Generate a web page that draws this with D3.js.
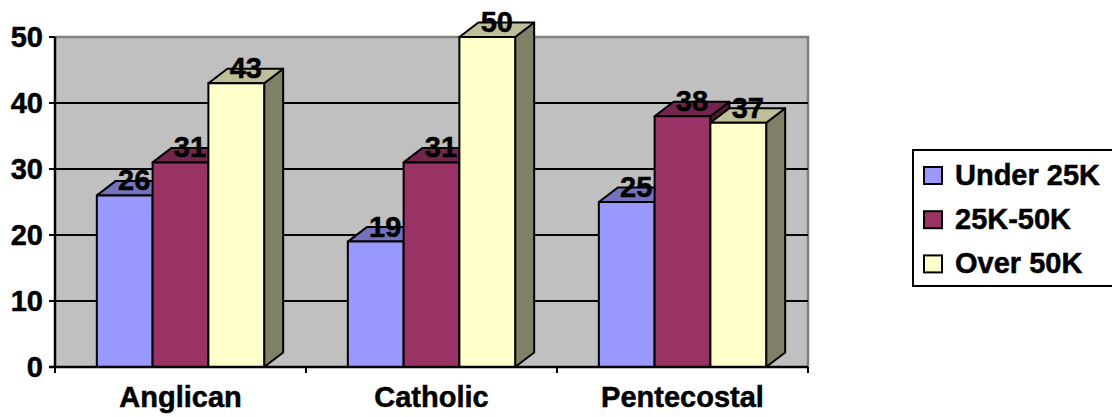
<!DOCTYPE html>
<html>
<head>
<meta charset="utf-8">
<script src="https://cdn.jsdelivr.net/npm/d3@7"></script>
<style>
  html, body { margin: 0; padding: 0; background: #fff; }
  svg text { font-family: "Liberation Sans", Arial, sans-serif; font-weight: bold; fill: #000; stroke: #000; stroke-width: 0.5px; }
</style>
</head>
<body>
<svg id="chart" width="1112" height="417"></svg>
<script>
// Income bands by denomination
const categories = ["Anglican", "Catholic", "Pentecostal"];
const seriesNames = ["Under 25K", "25K-50K", "Over 50K"];
const under25K = [26, 19, 25];
const from25to50K = [31, 31, 38];
const over50K = [43, 50, 37];
const yTicks = [0, 10, 20, 30, 40, 50];

const seriesValues = [under25K, from25to50K, over50K];
// front, top, side shades per series
const frontColors = ["#9999FF", "#993366", "#FFFFCC"];
const topColors   = ["#7373BF", "#73264D", "#BFBF99"];
const sideColors  = ["#4D4D80", "#4D1A33", "#808066"];

const svg = d3.select("#chart");
const plot = { left: 55, right: 808, top: 37, bottom: 367 };
const depthX = 19, depthY = 14.5;
const fontSize = 29;

const x = d3.scaleBand().domain(categories).range([plot.left, plot.right]).padding(0);
const xs = d3.scaleBand().domain(seriesNames).range([0, x.bandwidth()])
  .paddingInner(0).paddingOuter(0.75);
const y = d3.scaleLinear().domain([0, 50]).range([plot.bottom, plot.top]);

// plot wall
svg.append("rect")
  .attr("x", plot.left).attr("y", plot.top)
  .attr("width", plot.right - plot.left).attr("height", plot.bottom - plot.top)
  .attr("fill", "#C0C0C0");
svg.append("path")
  .attr("d", `M${plot.left},${plot.top}H${plot.right}V${plot.bottom}`)
  .attr("fill", "none").attr("stroke", "#808080").attr("stroke-width", 2.5);

// gridlines
svg.append("g").selectAll("line").data(yTicks.filter(t => t > 0 && t < 50)).join("line")
  .attr("x1", plot.left).attr("x2", plot.right)
  .attr("y1", d => y(d)).attr("y2", d => y(d))
  .attr("stroke", "#000").attr("stroke-width", 2);

// bars
const bars = [];
categories.forEach((c, ci) => {
  seriesNames.forEach((s, si) => {
    bars.push({ cat: c, series: s, si, value: seriesValues[si][ci] });
  });
});

const gBars = svg.append("g");
bars.forEach(b => {
  const x0 = x(b.cat) + xs(b.series);
  const w = xs.bandwidth();
  const yt = y(b.value), yb = y(0);
  const g = gBars.append("g")
    .attr("stroke", "#000").attr("stroke-width", 2).attr("stroke-linejoin", "round");
  g.append("path")
    .attr("d", `M${x0 + w},${yb}L${x0 + w + depthX},${yb - depthY}L${x0 + w + depthX},${yt - depthY}L${x0 + w},${yt}Z`)
    .attr("fill", sideColors[b.si]);
  g.append("path")
    .attr("d", `M${x0},${yt}L${x0 + depthX},${yt - depthY}L${x0 + w + depthX},${yt - depthY}L${x0 + w},${yt}Z`)
    .attr("fill", topColors[b.si]);
  g.append("rect")
    .attr("x", x0).attr("y", yt).attr("width", w).attr("height", yb - yt)
    .attr("fill", frontColors[b.si]);
});

// value labels
svg.append("g").selectAll("text").data(bars).join("text")
  .attr("x", d => x(d.cat) + xs(d.series) + xs.bandwidth() / 2 + depthX / 2)
  .attr("y", d => y(d.value) - 5)
  .attr("text-anchor", "middle")
  .attr("font-size", fontSize)
  .text(d => d.value);

// y axis
const yAxis = svg.append("g");
yAxis.append("line")
  .attr("x1", plot.left).attr("x2", plot.left)
  .attr("y1", plot.top).attr("y2", plot.bottom + 1)
  .attr("stroke", "#000").attr("stroke-width", 2.5);
yAxis.selectAll("line.tick").data(yTicks).join("line").attr("class", "tick")
  .attr("x1", plot.left - 6).attr("x2", plot.left)
  .attr("y1", d => y(d)).attr("y2", d => y(d))
  .attr("stroke", "#000").attr("stroke-width", 2);
yAxis.selectAll("text").data(yTicks).join("text")
  .attr("x", 43).attr("y", d => y(d) + 10)
  .attr("text-anchor", "end").attr("font-size", fontSize)
  .text(d => d);

// x axis
const xAxis = svg.append("g");
xAxis.append("line")
  .attr("x1", plot.left - 6).attr("x2", plot.right)
  .attr("y1", plot.bottom).attr("y2", plot.bottom)
  .attr("stroke", "#000").attr("stroke-width", 2.5);
const bounds = categories.map(c => x(c)).concat([plot.right]);
xAxis.selectAll("line.tick").data(bounds).join("line").attr("class", "tick")
  .attr("x1", d => d).attr("x2", d => d)
  .attr("y1", plot.bottom).attr("y2", plot.bottom + 6)
  .attr("stroke", "#000").attr("stroke-width", 2);
xAxis.selectAll("text").data(categories).join("text")
  .attr("x", d => x(d) + x.bandwidth() / 2).attr("y", 407)
  .attr("text-anchor", "middle").attr("font-size", fontSize)
  .text(d => d);

// legend
const legend = svg.append("g");
legend.append("rect")
  .attr("x", 913).attr("y", 150).attr("width", 230).attr("height", 136)
  .attr("fill", "#fff").attr("stroke", "#000").attr("stroke-width", 2);
const items = legend.selectAll("g.item").data(seriesNames).join("g").attr("class", "item")
  .attr("transform", (d, i) => `translate(0, ${i * 44.2})`);
items.append("rect")
  .attr("x", 924).attr("y", 167).attr("width", 18).attr("height", 17)
  .attr("fill", (d, i) => frontColors[i]).attr("stroke", "#000").attr("stroke-width", 2);
items.append("text")
  .attr("x", 955).attr("y", 185).attr("font-size", fontSize)
  .text(d => d);
</script>
</body>
</html>
